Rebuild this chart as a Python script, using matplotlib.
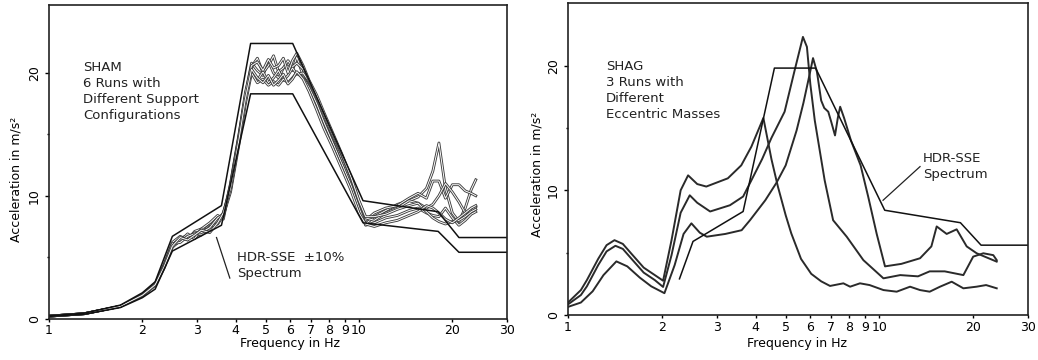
import matplotlib
matplotlib.use("Agg")
import matplotlib.pyplot as plt
from matplotlib.ticker import FixedLocator, NullLocator, FixedFormatter

plt.rcParams['font.family'] = ['DejaVu Sans']

# ---- left panel: SHAM, 6 runs + HDR-SSE spectrum +-10 %
env_f = [1.0, 1.3, 1.7, 2.0, 2.2, 2.5, 3.6, 4.47, 6.11, 10.3, 18.0, 21.0, 30.0]
env_upper = [0.22, 0.44, 1.1, 2.1, 3.0, 6.7, 9.2, 22.4, 22.4, 9.6, 8.7, 6.6, 6.6]
env_lower = [0.18, 0.36, 0.9, 1.7, 2.4, 5.5, 7.6, 18.3, 18.3, 7.8, 7.1, 5.4, 5.4]

run_f = [1.0, 1.3, 1.7, 2.0, 2.2, 2.35, 2.5, 2.65, 2.8, 2.95, 3.1, 3.3, 3.5, 3.65, 3.85,
         4.1, 4.3, 4.5, 4.7, 4.9, 5.1, 5.3, 5.5, 5.7, 5.9, 6.1, 6.3, 6.6, 6.9, 7.3,
         7.7, 8.2, 8.8, 9.4, 10.0, 10.5, 11.2, 12.2, 13.3, 14.5, 15.5, 16.5, 17.3, 18.1,
         19.0, 20.0, 21.0, 22.0, 23.0, 23.8]
run1 = [0.2, 0.4, 1.0, 1.9, 2.8, 4.4, 6.2, 6.7, 6.4, 7.1, 7.3, 7.8, 8.4, 8.1, 11.0,
        15.0, 18.2, 20.8, 20.2, 19.8, 21.0, 20.0, 19.6, 20.4, 20.8, 20.2, 21.3, 19.8, 18.6, 17.2,
        16.0, 14.5, 12.6, 10.8, 8.8, 7.7, 8.3, 8.8, 9.3, 9.6, 9.9, 10.6, 12.0, 14.3,
        10.6, 8.6, 7.9, 9.0, 10.5, 11.3]
run2 = [0.2, 0.4, 1.0, 1.9, 2.75, 4.2, 6.0, 6.5, 6.8, 6.6, 7.0, 7.6, 7.9, 8.6, 10.5,
        14.5, 17.8, 20.5, 21.2, 20.0, 20.6, 21.4, 20.1, 20.4, 21.0, 20.5, 20.8, 20.3, 19.2, 17.8,
        16.4, 14.9, 13.0, 11.2, 9.2, 8.0, 8.6, 9.0, 9.2, 9.8, 10.2, 9.8, 11.2, 11.2,
        9.8, 10.9, 10.9, 10.4, 10.2, 10.0]
run3 = [0.2, 0.4, 1.0, 1.9, 2.8, 4.3, 5.9, 6.3, 6.9, 6.5, 7.3, 7.2, 8.0, 8.3, 10.8,
        14.8, 18.0, 20.2, 19.4, 20.1, 19.2, 19.6, 20.2, 19.4, 19.8, 20.4, 19.9, 20.0, 19.3, 18.0,
        16.6, 15.0, 13.3, 11.5, 9.5, 8.2, 8.0, 8.6, 9.0, 9.6, 9.4, 9.0, 9.3, 10.0,
        11.0, 10.3, 9.5, 8.6, 8.8, 9.1]
run4 = [0.2, 0.4, 1.0, 1.85, 2.7, 4.1, 5.8, 6.4, 6.6, 7.0, 6.8, 7.5, 7.7, 8.4, 10.3,
        14.2, 17.5, 20.0, 19.2, 19.5, 19.0, 19.3, 19.0, 19.5, 19.2, 19.6, 20.0, 19.6, 18.8, 17.5,
        16.0, 14.4, 12.6, 10.9, 9.0, 7.6, 7.8, 8.2, 8.4, 8.8, 9.0, 8.6, 8.4, 8.3,
        9.0, 8.2, 7.6, 8.0, 8.5, 8.7]
run5 = [0.2, 0.4, 1.0, 1.9, 2.8, 4.3, 6.1, 6.2, 6.7, 6.9, 7.0, 7.4, 8.2, 8.5, 10.9,
        14.9, 18.4, 20.6, 20.9, 20.2, 21.1, 20.4, 20.6, 21.2, 20.0, 21.0, 21.6, 20.6, 19.4, 18.2,
        16.8, 15.2, 13.4, 11.6, 9.6, 8.3, 8.3, 8.5, 8.9, 9.2, 9.4, 8.7, 8.2, 7.9,
        7.7, 7.9, 8.0, 8.3, 8.7, 8.9]
run6 = [0.2, 0.4, 1.0, 1.9, 2.75, 4.2, 5.9, 6.6, 6.4, 6.8, 7.2, 7.0, 7.8, 8.6, 10.6,
        14.6, 17.9, 20.3, 19.6, 19.2, 19.8, 19.0, 19.4, 19.9, 19.1, 19.5, 20.1, 19.5, 18.5, 17.0,
        15.5, 14.0, 12.2, 10.5, 8.6, 7.7, 7.5, 7.8, 8.0, 8.4, 8.7, 9.2, 9.0, 8.6,
        8.1, 7.8, 8.2, 8.6, 9.0, 9.2]
sham_runs = [run1, run2, run3, run4, run5, run6]

# ---- right panel: SHAG, 3 runs + HDR-SSE spectrum
spec_f = [2.28, 2.52, 3.65, 4.6, 6.24, 10.4, 18.2, 21.2, 30.0]
spec_a = [2.9, 5.9, 8.3, 19.8, 19.8, 8.4, 7.4, 5.6, 5.6]

shag_a_f = [1.0, 1.1, 1.15, 1.25, 1.33, 1.41, 1.5, 1.6, 1.75, 1.9, 2.02, 2.15, 2.3, 2.43,
            2.6, 2.78, 3.26, 3.6, 3.88, 4.24, 4.5, 4.72, 5.0, 5.21, 5.6, 6.04, 6.5, 6.94,
            7.66, 8.05, 8.66, 9.3, 10.3, 11.36, 12.54, 13.5, 14.5, 15.65, 17.06, 18.6,
            20.5, 22.0, 23.8]
shag_a = [1.0, 2.0, 2.8, 4.5, 5.6, 6.0, 5.7, 4.9, 3.8, 3.2, 2.75, 6.0, 10.0, 11.2,
          10.5, 10.3, 10.96, 12.0, 13.5, 15.8, 12.5, 10.3, 8.0, 6.55, 4.5, 3.3, 2.7, 2.33,
          2.54, 2.27, 2.54, 2.4, 2.0, 1.87, 2.27, 2.0, 1.87, 2.27, 2.67, 2.14,
          2.27, 2.4, 2.14]
shag_b_f = [1.0, 1.1, 1.15, 1.25, 1.33, 1.42, 1.5, 1.6, 1.75, 1.9, 2.02, 2.15, 2.3, 2.46,
            2.6, 2.86, 3.31, 3.65, 3.88, 4.2, 4.5, 4.96, 5.34, 5.68, 5.85, 6.0, 6.2, 6.67,
            7.1, 7.85, 8.88, 10.3, 11.66, 13.3, 14.5, 16.2, 18.6, 20.0, 21.56, 23.2, 23.8]
shag_b = [0.85, 1.6, 2.3, 4.0, 5.1, 5.55, 5.3, 4.5, 3.4, 2.8, 2.25, 4.8, 8.2, 9.6,
          9.0, 8.3, 8.8, 9.5, 10.8, 12.5, 14.2, 16.3, 19.6, 22.3, 21.5, 18.5, 15.6, 10.8,
          7.6, 6.28, 4.4, 2.94, 3.2, 3.1, 3.5, 3.5, 3.2, 4.68, 4.95, 4.8, 4.4]
shag_c_f = [1.0, 1.1, 1.2, 1.3, 1.43, 1.55, 1.7, 1.85, 2.04, 2.2, 2.35, 2.49, 2.65, 2.79,
            3.2, 3.61, 3.84, 4.3, 4.67, 5.0, 5.42, 5.7, 5.98, 6.12, 6.3, 6.5, 6.65, 6.85,
            7.0, 7.2, 7.35, 7.48, 7.7, 8.1, 8.7, 9.2, 9.8, 10.42, 11.76, 13.5, 14.68,
            15.27, 16.44, 17.7, 19.06, 20.52, 23.79]
shag_c = [0.65, 1.0, 1.9, 3.2, 4.3, 3.9, 3.0, 2.3, 1.75, 4.0, 6.5, 7.35, 6.6, 6.28,
          6.5, 6.8, 7.6, 9.2, 10.6, 12.0, 14.8, 17.0, 19.4, 20.6, 19.5, 17.2, 16.6, 16.3,
          15.5, 14.4, 15.8, 16.7, 15.8, 14.0, 12.0, 9.5, 6.5, 3.9, 4.1, 4.55, 5.5,
          7.1, 6.5, 6.87, 5.5, 4.95, 4.28]

xticks = [1, 2, 3, 4, 5, 6, 7, 8, 9, 10, 20, 30]
xticklabels = ['1', '2', '3', '4', '5', '6', '7', '8', '9', '10', '20', '30']
yticks = [0, 10, 20]

fig = plt.figure(figsize=(10.38, 3.6), dpi=100)
axL = fig.add_axes([0.0472, 0.115, 0.4412, 0.870])
axR = fig.add_axes([0.5472, 0.125, 0.4432, 0.866])


def style_axis(ax, ytop):
    ax.set_xscale('log')
    ax.set_xlim(1, 30)
    ax.set_ylim(0, ytop)
    ax.xaxis.set_major_locator(FixedLocator(xticks))
    ax.xaxis.set_major_formatter(FixedFormatter(xticklabels))
    ax.xaxis.set_minor_locator(NullLocator())
    ax.yaxis.set_major_locator(FixedLocator(yticks))
    ax.yaxis.set_minor_locator(FixedLocator([5, 15]))
    ax.tick_params(axis='x', which='major', direction='out', length=2.5, width=1,
                   pad=1.5, labelsize=9)
    ax.tick_params(axis='y', which='major', direction='out', length=3, width=1,
                   pad=3, labelsize=9)
    ax.tick_params(axis='y', which='minor', direction='out', length=1.5, width=1)
    for lab in ax.get_yticklabels():
        lab.set_rotation(90)
        lab.set_va('center')
    for sp in ax.spines.values():
        sp.set_linewidth(1.2)
        sp.set_color('#222222')
    ax.set_xlabel('Frequency in Hz', fontsize=9)
    ax.set_ylabel('Acceleration in m/s²', fontsize=9)


# left panel
for r in sham_runs:
    axL.plot(run_f, r, color='#3c3c3c', lw=2.0, solid_joinstyle='round')
    axL.plot(run_f, r, color='white', lw=0.7, solid_joinstyle='round')
axL.plot(env_f, env_upper, color='#111111', lw=1.1)
axL.plot(env_f, env_lower, color='#111111', lw=1.1)
style_axis(axL, 25.5)
axL.xaxis.set_label_coords(0.526, -0.058)
axL.yaxis.set_label_coords(-0.057, 0.443)
axL.text(0.074, 0.822, 'SHAM\n6 Runs with\nDifferent Support\nConfigurations',
         transform=axL.transAxes, ha='left', va='top', fontsize=9.5, linespacing=1.3,
         color='#222222')
axL.text(0.41, 0.215, 'HDR-SSE  ±10%\nSpectrum', transform=axL.transAxes,
         ha='left', va='top', fontsize=9.5, linespacing=1.3, color='#222222')
axL.plot([3.83, 3.47], [3.3, 6.6], color='#222222', lw=0.9)

# right panel
for f, a in [(shag_a_f, shag_a), (shag_b_f, shag_b), (shag_c_f, shag_c)]:
    axR.plot(f, a, color='#2a2a2a', lw=1.4, solid_joinstyle='round')
axR.plot(spec_f, spec_a, color='#111111', lw=1.1)
style_axis(axR, 25.0)
axR.xaxis.set_label_coords(0.498, -0.071)
axR.yaxis.set_label_coords(-0.054, 0.452)
axR.text(0.083, 0.817, 'SHAG\n3 Runs with\nDifferent\nEccentric Masses',
         transform=axR.transAxes, ha='left', va='top', fontsize=9.5, linespacing=1.3,
         color='#222222')
axR.text(0.772, 0.522, 'HDR-SSE\nSpectrum', transform=axR.transAxes,
         ha='left', va='top', fontsize=9.5, linespacing=1.3, color='#222222')
axR.plot([10.27, 13.5], [9.2, 11.9], color='#222222', lw=0.9)

fig.savefig('out.png', dpi=100)
